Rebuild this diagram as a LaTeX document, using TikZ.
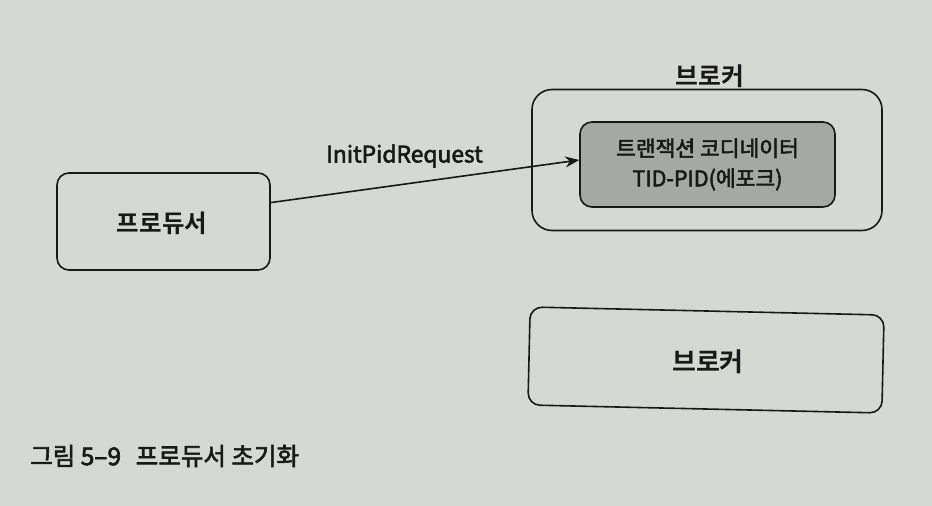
\documentclass[tikz,border=0pt]{standalone}
\usepackage{fontspec}
\setmainfont{Noto Sans CJK KR}[BoldFont={Noto Sans CJK KR Bold}]
\newfontfamily\medfont{Noto Sans CJK KR}[FakeBold=2.5]
\usetikzlibrary{arrows.meta}
\definecolor{paper}{RGB}{214,216,211}
\definecolor{inner}{RGB}{166,168,163}
\definecolor{ink}{RGB}{25,25,25}
\tikzset{
  boxstyle/.style={draw=ink, line width=1.6pt, rounded corners=12pt, inner sep=0pt, align=center},
  lbl/.style={text=ink, inner sep=0pt},
}
\begin{document}
\begin{tikzpicture}[x=1pt,y=-1pt]
\fill[paper] (0,0) rectangle (932,506);
\useasboundingbox (0,0) rectangle (932,506);
% producer
\node[boxstyle, minimum width=213pt, minimum height=97pt] (prod) at (163.5,221.5) {};
\node[lbl, font=\bfseries\fontsize{24.5}{28}\selectfont] (prodt) at (162,223) {프로듀서};
% broker with coordinator
\node[boxstyle, rounded corners=20pt, minimum width=350pt, minimum height=141pt] (brk1) at (707,160) {};
\node[lbl, font=\bfseries\fontsize{24.8}{28}\selectfont] (brk1t) at (710,76) {브로커};
\node[boxstyle, fill=inner, minimum width=255pt, minimum height=85pt] (coord) at (707.5,164.5) {};
\node[lbl, font=\medfont\fontsize{21.5}{30}\selectfont, align=center] (coordt) at (coord.center) {트랜잭션 코디네이터\\TID-PID(에포크)};
% second broker
\node[boxstyle, rotate=-1.3, minimum width=354pt, minimum height=98pt] (brk2) at (706,360) {};
\node[lbl, font=\bfseries\fontsize{26}{30}\selectfont] (brk2t) at (708,362) {브로커};
% arrow
\draw[ink, line width=1.6pt, -{Stealth[length=14pt,width=11pt]}] (prod.10) -- (coord.178);
\node[lbl, font=\medfont\fontsize{22.8}{26}\selectfont] (req) at (404.5,156) {InitPidRequest};
% caption
\node[lbl, anchor=west, font=\medfont\fontsize{24.5}{28}\selectfont] (cap) at (30,456) {그림 5–9\hspace{0.6em}프로듀서 초기화};
\end{tikzpicture}
\end{document}
